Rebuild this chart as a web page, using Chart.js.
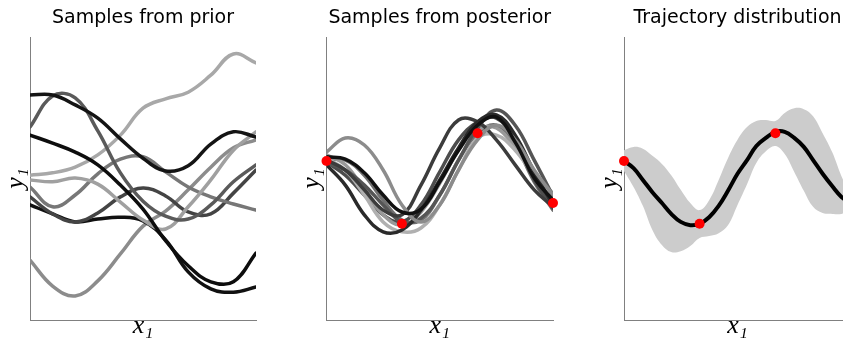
<!DOCTYPE html>
<html>
<head>
<meta charset="utf-8">
<script src="https://cdn.jsdelivr.net/npm/chart.js@4.4.0/dist/chart.umd.min.js"></script>
<style>
  body { margin: 0; width: 843px; height: 342px; overflow: hidden; background: #fff; position: relative; }
  canvas { position: absolute; top: 0; }
</style>
</head>
<body>
<canvas id="prior" width="281" height="342" style="left:0px"></canvas>
<canvas id="post" width="281" height="342" style="left:281px"></canvas>
<canvas id="traj" width="300" height="342" style="left:562px"></canvas>
<script>
// panel 1 - samples from prior
const xPrior = [0, 0.1, 0.2, 0.3, 0.4, 0.5, 0.6, 0.7, 0.8, 0.9, 1];
const prior1 = [1.77, 1.77, 1.56, 1.28, 0.84, 0.43, 0.16, 0.27, 0.73, 0.99, 0.88];
const prior2 = [1.09, 1.75, 1.71, 1.01, 0.12, -0.48, -0.80, -0.86, -0.56, -0.07, 0.29];
const prior3 = [0.92, 0.75, 0.56, 0.29, -0.14, -0.65, -1.32, -1.85, -2.19, -2.19, -1.58];
const prior4 = [0.07, 0.12, 0.24, 0.50, 0.92, 1.49, 1.69, 1.83, 2.19, 2.64, 2.45];
const prior5 = [-0.03, -0.07, 0.01, -0.12, -0.50, -0.88, -1.07, -0.60, -0.03, 0.60, 0.99];
const prior6 = [-0.18, -0.60, -0.35, 0.10, 0.41, 0.46, 0.14, -0.18, -0.39, -0.54, -0.67];
const prior7 = [-0.39, -0.75, -0.92, -0.73, -0.39, -0.20, -0.37, -0.71, -0.75, -0.31, 0.18];
const prior8 = [-0.56, -0.75, -0.92, -0.86, -0.82, -0.90, -1.30, -1.98, -2.34, -2.41, -2.30];
const prior9 = [-1.73, -2.28, -2.49, -2.17, -1.60, -1.01, -0.69, -0.24, 0.24, 0.65, 0.82];

// panel 2 - samples from posterior
const xPost = [0, 0.083, 0.167, 0.25, 0.333, 0.417, 0.5, 0.583, 0.667, 0.75, 0.833, 0.917, 1];
const post1 = [0.46, 0.41, 0.12, -0.35, -0.71, -0.65, -0.07, 0.60, 1.13, 1.30, 0.77, 0.01, -0.46];
const post2 = [0.56, 0.86, 0.71, 0.18, -0.56, -0.92, -0.56, 0.18, 0.82, 1.13, 0.82, 0.18, -0.35];
const post3 = [0.29, -0.14, -0.77, -1.13, -1.09, -0.67, -0.03, 0.65, 1.20, 1.35, 0.92, 0.14, -0.56];
const post4 = [0.39, 0.18, -0.24, -0.67, -0.77, -0.14, 0.65, 1.24, 1.20, 0.82, 0.29, -0.24, -0.60];
const post5 = [0.33, 0.18, -0.14, -0.56, -0.92, -0.84, -0.35, 0.39, 1.07, 1.45, 1.13, 0.39, -0.37];
const post6 = [0.43, 0.18, -0.35, -0.92, -1.13, -1.05, -0.56, 0.18, 0.86, 0.92, 0.60, 0.07, -0.31];
const post7 = [0.50, 0.29, -0.24, -0.77, -0.99, -0.71, -0.10, 0.60, 1.03, 1.07, 0.65, 0.07, -0.39];
const post8 = [0.35, 0.07, -0.35, -0.77, -0.92, -0.56, 0.14, 0.82, 1.20, 1.28, 0.82, -0.03, -0.63];
const post9 = [0.39, 0.39, 0.07, -0.46, -0.88, -0.88, -0.35, 0.39, 0.96, 1.13, 0.71, -0.07, -0.67];

// observations (red dots)
const obsX = [0, 0.333, 0.667, 1];
const obsY = [0.37, -0.96, 0.96, -0.52];

// panel 3 - mean and band
const xTraj = [0, 0.042, 0.083, 0.125, 0.167, 0.208, 0.25, 0.292, 0.333, 0.375, 0.417, 0.458, 0.5,
               0.542, 0.583, 0.625, 0.667, 0.708, 0.75, 0.792, 0.833, 0.875, 0.917, 0.958, 1];
const trajMean = [0.37, 0.22, -0.03, -0.29, -0.52, -0.75, -0.92, -0.99, -0.96, -0.82, -0.58, -0.26, 0.10,
                  0.39, 0.69, 0.86, 0.99, 0.99, 0.86, 0.67, 0.39, 0.10, -0.16, -0.39, -0.52];
const trajUpper = [0.60, 0.67, 0.63, 0.48, 0.31, 0.07, -0.24, -0.52, -0.67, -0.46, -0.03, 0.43, 0.82,
                   1.09, 1.22, 1.24, 1.22, 1.39, 1.49, 1.47, 1.32, 0.96, 0.56, 0.05, -0.37];
const trajLower = [0.16, -0.18, -0.58, -1.09, -1.41, -1.56, -1.54, -1.43, -1.26, -1.22, -1.16, -0.99, -0.56,
                   -0.12, 0.33, 0.58, 0.69, 0.52, 0.14, -0.26, -0.60, -0.73, -0.75, -0.75, -0.67];

const priorColors = ['#141414', '#5a5a5a', '#0d0d0d', '#a8a8a8', '#a0a0a0', '#777777', '#444444', '#111111', '#8c8c8c'];
const postColors = ['#111111', '#8c8c8c', '#2a2a2a', '#3c3c3c', '#555555', '#b0b0b0', '#999999', '#4d4d4d', '#707070'];

function pts(xs, ys) {
  return xs.map((x, i) => ({ x: x, y: ys[i] }));
}

function sampleLines(xs, list, colors) {
  return list.map((ys, i) => ({
    data: pts(xs, ys),
    borderColor: colors[i],
    borderWidth: 3.5,
    pointRadius: 0,
    fill: false
  }));
}

const redDots = {
  data: pts(obsX, obsY),
  showLine: false,
  pointRadius: 5,
  pointBackgroundColor: '#ff0000',
  pointBorderWidth: 0,
  clip: false
};

function panelOptions(title, padLeft, padRight) {
  return {
    responsive: false,
    animation: false,
    layout: { padding: { left: padLeft, right: padRight, top: 0, bottom: 0 } },
    plugins: {
      legend: { display: false },
      tooltip: { enabled: false },
      title: {
        display: true, text: title, fullSize: false, color: '#000',
        font: { family: 'DejaVu Sans', size: 19, weight: 'normal', lineHeight: '22px' },
        padding: { top: 7, bottom: 8 }
      }
    },
    elements: { line: { tension: 0.4, borderCapStyle: 'round', borderJoinStyle: 'round' } },
    scales: {
      x: {
        type: 'linear', min: 0, max: 1,
        ticks: { display: false },
        grid: { display: false, drawTicks: false },
        border: { color: '#808080' },
        title: {
          display: true, text: 'x\u2081', color: '#000',
          font: { family: 'Liberation Serif', style: 'italic', size: 26, lineHeight: '12px' },
          padding: { top: 0, bottom: 10 }
        }
      },
      y: {
        min: -3, max: 3,
        ticks: { display: false },
        grid: { display: false, drawTicks: false },
        border: { color: '#808080' },
        title: {
          display: true, text: 'y\u2081', color: '#000',
          font: { family: 'Liberation Serif', style: 'italic', size: 26, lineHeight: '26px' },
          padding: { top: 3, bottom: 1 }
        }
      }
    }
  };
}

new Chart(document.getElementById('prior'), {
  type: 'line',
  data: { datasets: sampleLines(xPrior, [prior1, prior2, prior3, prior4, prior5, prior6, prior7, prior8, prior9], priorColors) },
  options: panelOptions('Samples from prior', 0, 25)
});

new Chart(document.getElementById('post'), {
  type: 'line',
  data: { datasets: [redDots].concat(sampleLines(xPost, [post1, post2, post3, post4, post5, post6, post7, post8, post9], postColors)) },
  options: panelOptions('Samples from posterior', 15.5, 9)
});

new Chart(document.getElementById('traj'), {
  type: 'line',
  data: {
    datasets: [
      Object.assign({}, redDots),
      { data: pts(xTraj, trajMean), borderColor: '#000', borderWidth: 4, pointRadius: 0, fill: false },
      { data: pts(xTraj, trajUpper), borderWidth: 0, borderColor: 'rgba(0,0,0,0)', pointRadius: 0, fill: '+1', backgroundColor: '#cccccc' },
      { data: pts(xTraj, trajLower), borderWidth: 0, borderColor: 'rgba(0,0,0,0)', pointRadius: 0, fill: false }
    ]
  },
  options: panelOptions('Trajectory distribution', 32, 11)
});
</script>
</body>
</html>
